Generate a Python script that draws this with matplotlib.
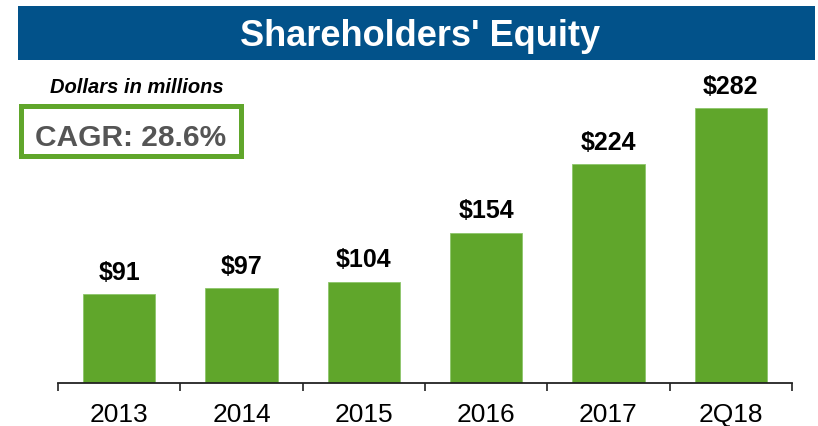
import matplotlib.pyplot as plt
from matplotlib.patches import Rectangle

plt.rcParams['font.family'] = ['Liberation Sans', 'DejaVu Sans']

categories = ['2013', '2014', '2015', '2016', '2017', '2Q18']
equity = [91, 97, 104, 154, 224, 282]
labels = ['$91', '$97', '$104', '$154', '$224', '$282']
title = "Shareholders' Equity"
units_note = 'Dollars in millions'
cagr_note = 'CAGR: 28.6%'

green = '#60A62B'
blue = '#02528A'
W, H = 818, 427

fig = plt.figure(figsize=(W / 100, H / 100), dpi=100)

# title banner
fig.patches.append(Rectangle((18 / W, 1 - 61 / H), (815 - 18) / W, 54 / H,
                             transform=fig.transFigure, facecolor=blue,
                             edgecolor='none', zorder=0))
fig.text(420 / W, 1 - 46.5 / H, title, color='white', fontsize=26,
         fontweight='bold', ha='center', va='baseline')

# notes on the left
fig.text(137 / W, 1 - 93 / H, units_note, fontsize=14.5, fontweight='bold',
         fontstyle='italic', ha='center', va='baseline')
fig.patches.append(Rectangle((20.5 / W, 1 - 156.5 / H), 220 / W, 50 / H,
                             transform=fig.transFigure, facecolor='white',
                             edgecolor=green, linewidth=3.6, zorder=1))
fig.text(131 / W, 1 - 146 / H, cagr_note, fontsize=21.5, fontweight='bold',
         color='#555555', ha='center', va='baseline', zorder=2)

ax = fig.add_axes([58 / W, 43 / H, (792 - 58) / W, (384 - 61) / H])
x = list(range(len(categories)))
ax.bar(x, equity, width=0.59, color=green, edgecolor='#8DC66B', linewidth=0.6)
for xi, v, lab in zip(x, equity, labels):
    ax.annotate(lab, (xi, v), xytext=(0, 11), textcoords='offset points',
                ha='center', va='baseline', fontsize=18, fontweight='bold')

ax.set_xlim(-0.5, len(categories) - 0.5)
ax.set_ylim(0, 331)
ax.set_xticks(x)
ax.set_xticklabels(categories, fontsize=19)
ax.set_xticks([i - 0.5 for i in range(len(categories) + 1)], minor=True)
ax.tick_params(axis='x', which='major', length=0, pad=14)
ax.tick_params(axis='x', which='minor', length=6, width=1.2, color='#222222')
ax.set_yticks([])
for side in ['left', 'right', 'top']:
    ax.spines[side].set_visible(False)
ax.spines['bottom'].set_linewidth(1.3)
ax.spines['bottom'].set_color('#222222')
ax.patch.set_alpha(0)

fig.savefig('out.png', dpi=100)
